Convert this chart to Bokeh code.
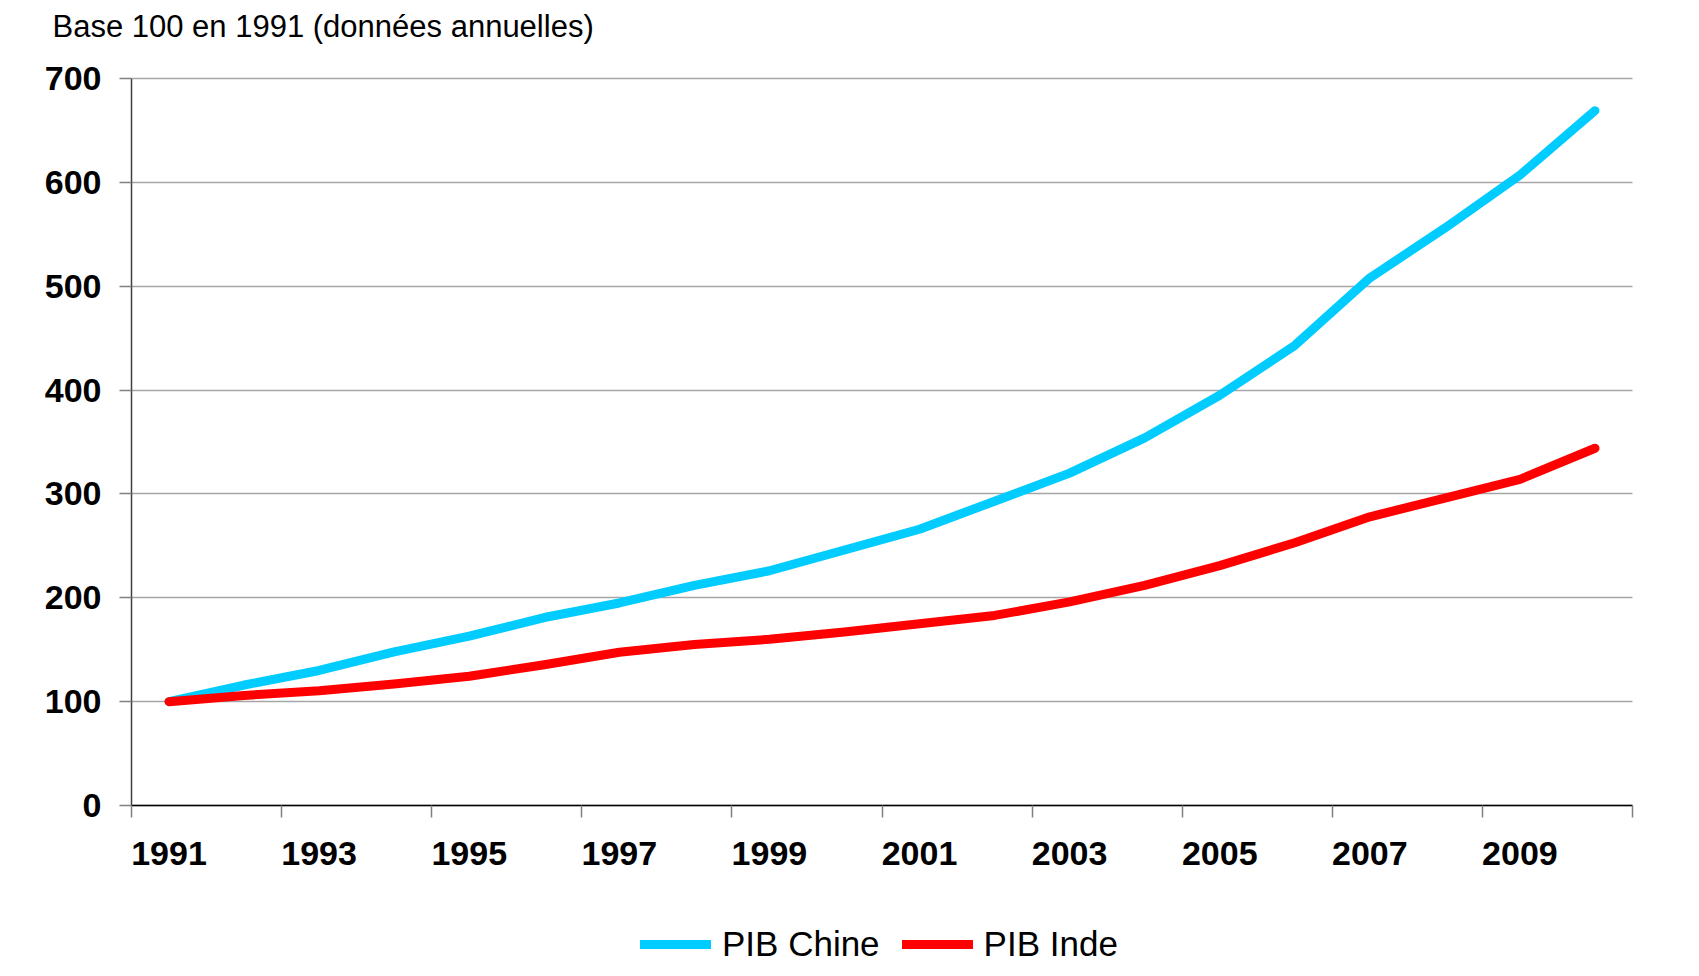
from bokeh.plotting import figure
from bokeh.models import FixedTicker, Legend, LegendItem, Label
from bokeh.embed import file_html
from bokeh.resources import INLINE

years = [1991, 1992, 1993, 1994, 1995, 1996, 1997, 1998, 1999, 2000,
         2001, 2002, 2003, 2004, 2005, 2006, 2007, 2008, 2009, 2010]
pib_chine = [100, 116, 130, 148, 163, 181, 195, 212, 226, 246,
             266, 293, 320, 354, 395, 443, 508, 556, 607, 669]
pib_inde = [100, 106, 110.5, 117, 124.5, 135.5, 147.5, 155, 160, 167,
            175, 183, 196, 212, 231, 253, 278, 296, 314, 344]
year_labels = [1991, 1993, 1995, 1997, 1999, 2001, 2003, 2005, 2007, 2009]
category_edges = [1990.5, 1992.5, 1994.5, 1996.5, 1998.5, 2000.5,
                  2002.5, 2004.5, 2006.5, 2008.5, 2010.5]
y_ticks = [0, 100, 200, 300, 400, 500, 600, 700]
title_text = "Base 100 en 1991 (données annuelles)"
series_names = ["PIB Chine", "PIB Inde"]

FONT = "Liberation Sans"

# ---- layout in pixels: the frame covers the whole figure ----
FIG_W, FIG_H = 1683, 968
AX_LEFT, AX_RIGHT = 131, 1632     # pixel span of the category axis
AX_TOP, AX_BOTTOM = 78, 805       # pixel span of 700 .. 0
X0, X1 = category_edges[0], category_edges[-1]
Y0, Y1 = 0, 700
px_per_x = (AX_RIGHT - AX_LEFT) / (X1 - X0)
px_per_y = (AX_BOTTOM - AX_TOP) / (Y1 - Y0)
x_start = X0 - AX_LEFT / px_per_x
x_end = X1 + (FIG_W - AX_RIGHT) / px_per_x
y_end = Y1 + AX_TOP / px_per_y
y_start = Y0 - (FIG_H - AX_BOTTOM) / px_per_y

p = figure(width=FIG_W, height=FIG_H, x_range=(x_start, x_end),
           y_range=(y_start, y_end),
           output_backend="svg", toolbar_location=None,
           min_border_left=0, min_border_right=0, min_border_top=0,
           min_border_bottom=0)
p.outline_line_color = None
p.background_fill_color = "white"
p.border_fill_color = "white"

# title (placed at pixel x=52, baseline y=26)
title = Label(x=x_start + 52 / px_per_x, y=y_end - 26 / px_per_y,
              text=title_text, text_font=FONT, text_font_size="31px",
              text_color="black", text_baseline="alphabetic", text_align="left")
p.add_layout(title)

# horizontal grid lines limited to the category span
p.xgrid.grid_line_color = None
grid_ok = True
try:
    p.ygrid.cross_bounds = (X0, X1)
except Exception:
    grid_ok = False
if grid_ok:
    p.ygrid.ticker = FixedTicker(ticks=y_ticks)
    p.ygrid.grid_line_color = "#A6A6A6"
    p.ygrid.grid_line_width = 1.5
else:
    p.ygrid.grid_line_color = None
    p.segment(x0=[X0] * len(y_ticks), y0=y_ticks, x1=[X1] * len(y_ticks),
              y1=y_ticks, line_color="#A6A6A6", line_width=1.5)

# x axis, drawn at value 0
xa = p.below[0]
xa.fixed_location = 0
xa.bounds = (X0, X1)
xa.ticker = FixedTicker(ticks=year_labels, minor_ticks=category_edges)
xa.major_tick_line_color = None
xa.major_tick_out = 12
xa.major_tick_in = 0
xa.minor_tick_out = 12
xa.minor_tick_in = 0
xa.minor_tick_line_color = "#808080"
xa.minor_tick_line_width = 1.5
xa.axis_line_color = "black"
xa.axis_line_width = 1.5
xa.major_label_text_font = FONT
xa.major_label_text_font_style = "bold"
xa.major_label_text_font_size = "34px"
xa.major_label_text_color = "black"
xa.major_label_standoff = 24

# y axis, drawn at the left category edge
ya = p.left[0]
ya.fixed_location = X0
ya.bounds = (Y0, Y1)
ya.ticker = FixedTicker(ticks=y_ticks)
ya.major_tick_out = 12
ya.major_tick_in = 0
ya.major_tick_line_color = "#808080"
ya.major_tick_line_width = 1.5
ya.minor_tick_line_color = None
ya.axis_line_color = "#404040"
ya.axis_line_width = 1.5
ya.major_label_text_font = FONT
ya.major_label_text_font_style = "bold"
ya.major_label_text_font_size = "34px"
ya.major_label_text_color = "black"
ya.major_label_standoff = 18

r1 = p.line(years, pib_chine, line_width=9, line_color="#00CCFF",
            line_cap="round", line_join="round")
r2 = p.line(years, pib_inde, line_width=9, line_color="#FF0000",
            line_cap="round", line_join="round")

legend = Legend(items=[LegendItem(label=series_names[0], renderers=[r1]),
                       LegendItem(label=series_names[1], renderers=[r2])],
                orientation="horizontal", location=(AX_LEFT + 509, 4))
legend.label_text_font = FONT
legend.label_text_font_size = "35px"
legend.label_text_color = "black"
legend.glyph_width = 71
legend.glyph_height = 40
legend.label_standoff = 11
legend.spacing = 22
legend.padding = 0
legend.margin = 0
legend.border_line_color = None
legend.background_fill_alpha = 0
p.add_layout(legend, "center")

open("out.html", "w").write(file_html(p, INLINE))
